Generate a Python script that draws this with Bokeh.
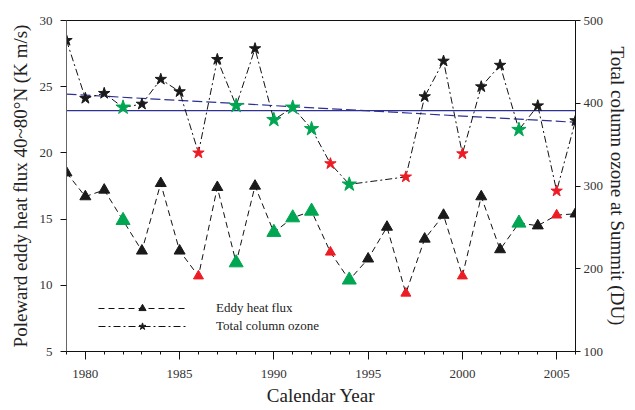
from bokeh.plotting import figure
from bokeh.models import Range1d, LinearAxis, SingleIntervalTicker, Legend, LegendItem
from bokeh.embed import file_html
from bokeh.resources import INLINE

years = list(range(1979, 2007))
heat_flux = [18.5, 16.7, 17.2, 14.9, 12.6, 17.7, 12.6, 10.7, 17.4, 11.7,
             17.5, 14.0, 15.1, 15.6, 12.5, 10.4, 12.0, 14.4, 9.4, 13.5,
             15.3, 10.7, 16.7, 12.7, 14.7, 14.5, 15.3, 15.4]
# category: k = normal, g = green, r = red
category = ["k", "k", "k", "g", "k", "k", "k", "r", "k", "g",
            "k", "g", "g", "g", "r", "g", "k", "k", "r", "k",
            "k", "r", "k", "k", "g", "k", "r", "k"]
ozone_years = [1979, 1980, 1981, 1982, 1983, 1984, 1985, 1986, 1987, 1988,
               1989, 1990, 1991, 1992, 1993, 1994, 1997, 1998, 1999, 2000,
               2001, 2002, 2003, 2004, 2005, 2006]
ozone = [476, 406, 412, 395, 399, 429, 414, 340, 453, 397,
         466, 380, 395, 369, 327, 302, 311, 408, 451, 339,
         420, 446, 368, 397, 294, 379]
ozone_mean = 391
trend_years = [1979, 2006]
trend_values = [411, 377]

colors = {"k": "#1a1a1a", "g": "#00a651", "r": "#ed1c24"}
tri_sizes = {"k": 11, "g": 14, "r": 10}
star_sizes = {"k": 12, "g": 15, "r": 12}

FONT = "Liberation Serif"

p = figure(width=635, height=410, output_backend="svg", toolbar_location=None,
           x_range=Range1d(1979, 2006), y_range=Range1d(5, 30),
           min_border_left=66, min_border_right=60, min_border_top=20, min_border_bottom=59)
p.extra_y_ranges = {"ozone": Range1d(100, 500)}
p.xgrid.visible = False
p.ygrid.visible = False
p.outline_line_color = "#111111"
p.outline_line_width = 1
p.background_fill_color = "white"
p.border_fill_color = "white"

# axes
xa = p.xaxis[0]
xa.ticker = SingleIntervalTicker(interval=5, num_minor_ticks=5)
xa.axis_label = "Calendar Year"
ya = p.yaxis[0]
ya.ticker = SingleIntervalTicker(interval=5, num_minor_ticks=0)
ya.axis_label = "Poleward eddy heat flux 40~80°N (K m/s)"
ra = LinearAxis(y_range_name="ozone", ticker=SingleIntervalTicker(interval=100, num_minor_ticks=0),
                axis_label="Total column ozone at Summit (DU)")
p.add_layout(ra, "right")

for ax in (xa, ya, ra):
    ax.major_label_text_font = FONT
    ax.major_label_text_font_size = "13px"
    ax.major_label_text_color = "#333333"
    ax.axis_label_text_font = FONT
    ax.axis_label_text_font_style = "normal"
    ax.axis_label_text_color = "#222222"
    ax.major_tick_in = 0
    ax.minor_tick_in = 0
    ax.axis_line_color = "#111111"
    ax.major_tick_line_color = "#111111"
    ax.minor_tick_line_color = "#111111"
xa.major_tick_out = 8
xa.minor_tick_out = 3
xa.major_label_standoff = 10
xa.axis_label_text_font_size = "19px"
xa.axis_label_standoff = 4
ya.major_tick_out = 6
ya.major_label_standoff = 8
ya.axis_label_text_font_size = "19px"
ya.axis_label_standoff = 6
ya.axis_line_color = "#666666"
ra.major_tick_out = 5
ra.major_label_standoff = 3
ra.axis_label_text_font_size = "19px"
ra.axis_label_standoff = 1

# trend lines (ozone axis)
p.line([years[0], years[-1]], [ozone_mean, ozone_mean], y_range_name="ozone",
       line_color="#2e3192", line_width=1.2)
p.line(trend_years, trend_values, y_range_name="ozone",
       line_color="#2e3192", line_width=1.2, line_dash="10 4")

# lines
l_heat = p.line(years, heat_flux, line_color="#111111", line_width=1, line_dash="6 4")
l_oz = p.line(ozone_years, ozone, y_range_name="ozone", line_color="#111111",
              line_width=1, line_dash="7 3 2 3")

oz_cat = [category[years.index(y)] for y in ozone_years]
tri_renderers = {}
star_renderers = {}
for c in ["k", "g", "r"]:
    xs = [y for y, cc in zip(years, category) if cc == c]
    vs = [v for v, cc in zip(heat_flux, category) if cc == c]
    tri_renderers[c] = p.scatter(xs, vs, marker="triangle", size=tri_sizes[c],
                                 fill_color=colors[c], line_color=colors[c])
    xo = [y for y, cc in zip(ozone_years, oz_cat) if cc == c]
    vo = [v for v, cc in zip(ozone, oz_cat) if cc == c]
    star_renderers[c] = p.scatter(xo, vo, marker="star", size=star_sizes[c], y_range_name="ozone",
                                  fill_color=colors[c], line_color=colors[c])

legend = Legend(items=[
    LegendItem(label="Eddy heat flux", renderers=[l_heat, tri_renderers["k"]]),
    LegendItem(label="Total column ozone", renderers=[l_oz, star_renderers["k"]]),
], location=(32, 16))
legend.glyph_width = 88
legend.glyph_height = 18
legend.label_standoff = 30
legend.spacing = 0
legend.padding = 0
legend.margin = 0
legend.border_line_color = None
legend.background_fill_alpha = 0
legend.label_text_font = FONT
legend.label_text_font_size = "13px"
legend.label_text_color = "#222222"
legend.label_height = 18
p.add_layout(legend, "center")

open("out.html", "w").write(file_html(p, INLINE))
